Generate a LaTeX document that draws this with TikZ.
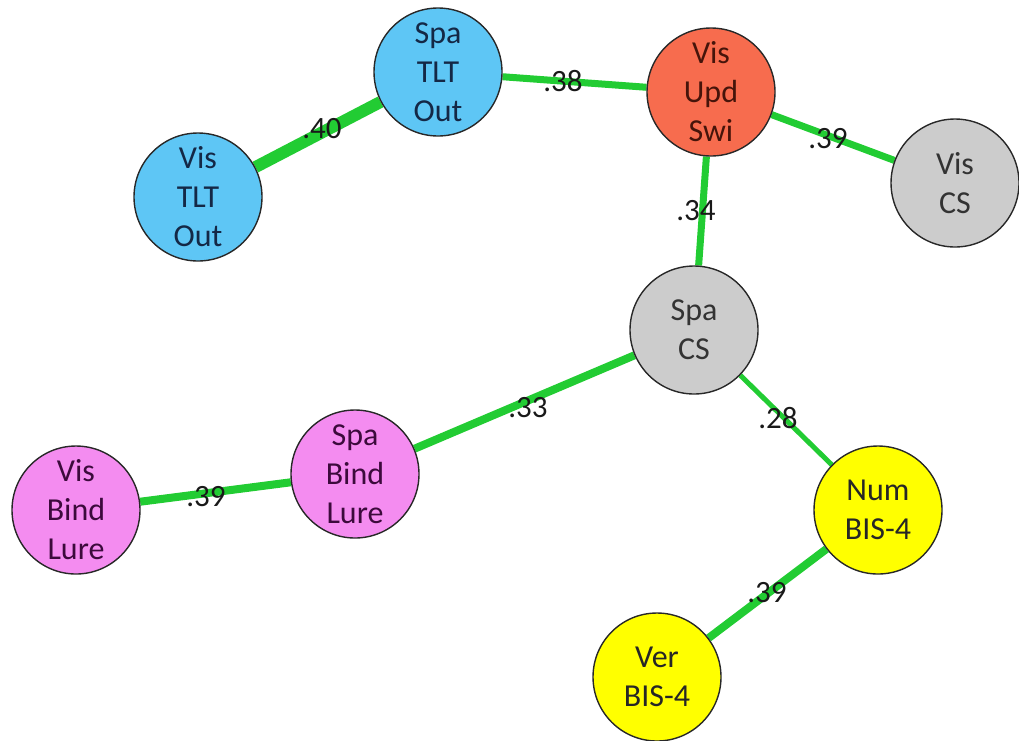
\documentclass[tikz,border=0pt]{standalone}
\usepackage{fontspec}
\setmainfont{Carlito}
\usetikzlibrary{backgrounds}
\definecolor{edgegreen}{RGB}{34,204,51}
\definecolor{nblue}{RGB}{94,198,245}
\definecolor{nred}{RGB}{247,108,78}
\definecolor{ngray}{RGB}{204,204,204}
\definecolor{npink}{RGB}{244,140,240}
\definecolor{nyellow}{RGB}{255,255,0}
\definecolor{tblue}{RGB}{20,40,70}
\definecolor{tred}{RGB}{70,20,10}
\definecolor{tpink}{RGB}{60,10,60}
\tikzset{
  vnode/.style={circle, draw={rgb,255:red,40;green,40;blue,40}, line width=1.4pt,
    minimum size=128pt, inner sep=0pt, align=center,
    font=\fontsize{32}{39}\selectfont},
  conn/.style={draw=edgegreen},
  wlabel/.style={font=\fontsize{31}{31}\selectfont, text=black!90, inner sep=0pt}
}
\begin{document}
\begin{tikzpicture}[x=1pt,y=-1pt]
\useasboundingbox (0,0) rectangle (1019,740);
\node[vnode, fill=nblue, text=tblue] (spatlt) at (438,72) {Spa\\TLT\\Out};
\node[vnode, fill=nblue, text=tblue] (vistlt) at (198,197) {Vis\\TLT\\Out};
\node[vnode, fill=nred, text=tred] (visupd) at (711,92) {Vis\\Upd\\Swi};
\node[vnode, fill=ngray, text=black!80] (viscs) at (955,183) {Vis\\CS};
\node[vnode, fill=ngray, text=black!80] (spacs) at (694,330) {Spa\\CS};
\node[vnode, fill=npink, text=tpink] (spabind) at (355,474) {Spa\\Bind\\Lure};
\node[vnode, fill=npink, text=tpink] (visbind) at (76,510) {Vis\\Bind\\Lure};
\node[vnode, fill=nyellow, text=black!85] (numbis) at (878,510) {Num\\BIS-4};
\node[vnode, fill=nyellow, text=black!85] (verbis) at (657,677) {Ver\\BIS-4};
\begin{pgfonlayer}{background}
\draw[conn, line width=12pt] (vistlt) -- (spatlt);
\draw[conn, line width=7pt] (spatlt) -- (visupd);
\draw[conn, line width=7pt] (visupd) -- (viscs);
\draw[conn, line width=7pt] (visupd) -- (spacs);
\draw[conn, line width=8pt] (spacs) -- (spabind);
\draw[conn, line width=8pt] (visbind) -- (spabind);
\draw[conn, line width=5pt] (spacs) -- (numbis);
\draw[conn, line width=8pt] (numbis) -- (verbis);
\end{pgfonlayer}
\node[wlabel] (l1) at (322,129) {.40};
\node[wlabel] (l2) at (563,81) {.38};
\node[wlabel] (l3) at (828,139) {.39};
\node[wlabel] (l4) at (696,211) {.34};
\node[wlabel] (l5) at (528,408) {.33};
\node[wlabel] (l6) at (206,497) {.39};
\node[wlabel] (l7) at (778,418) {.28};
\node[wlabel] (l8) at (767,593) {.39};
\end{tikzpicture}
\end{document}
